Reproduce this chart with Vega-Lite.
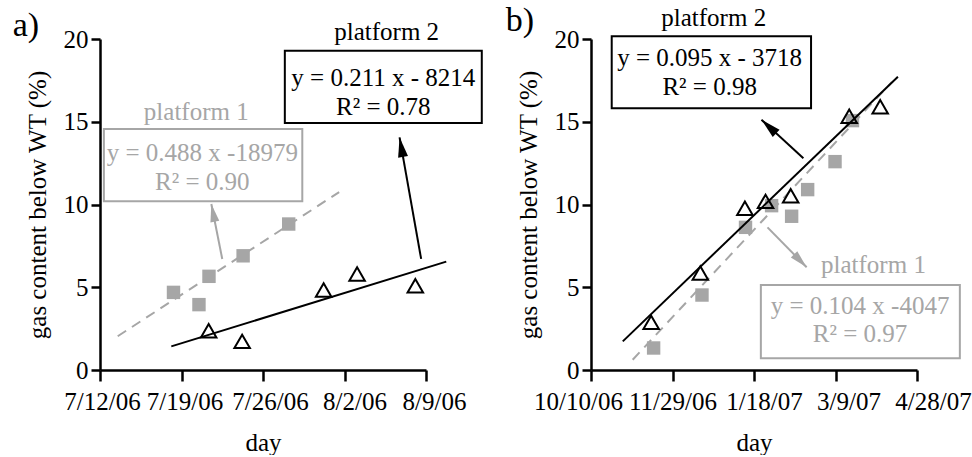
{
  "$schema": "https://vega.github.io/schema/vega-lite/v6.json",
  "background": "white",
  "padding": {"left": 12, "top": 3, "right": 0, "bottom": 0},
  "bounds": "flush",
  "spacing": 165,
  "resolve": {"scale": {"x": "independent", "y": "independent"}},
  "config": {
    "view": {"stroke": null},
    "font": "Liberation Serif",
    "axis": {
      "domainColor": "black", "domainWidth": 2.5, "tickColor": "black", "tickWidth": 2.5,
      "labelFont": "Liberation Serif", "labelFontSize": 25, "labelColor": "black",
      "titleFont": "Liberation Serif", "titleFontSize": 25, "titleFontWeight": "normal", "titleColor": "black",
      "grid": false, "labelFlush": false, "labelOverlap": false
    },
    "axisX": {"tickSize": 11, "labelPadding": 8, "titlePadding": 16},
    "axisY": {"tickSize": 9, "labelPadding": 3, "titlePadding": 13}
  },
  "datasets": {
    "a_pts": [
      {"day": "2006-07-18T07:30", "value": 4.69, "platform": "platform 1"},
      {"day": "2006-07-20T12:00", "value": 3.95, "platform": "platform 1"},
      {"day": "2006-07-21T08:40", "value": 5.66, "platform": "platform 1"},
      {"day": "2006-07-24T07:00", "value": 6.9, "platform": "platform 1"},
      {"day": "2006-07-28T05:00", "value": 8.82, "platform": "platform 1"},
      {"day": "2006-07-21T08:00", "value": 2.37, "platform": "platform 2"},
      {"day": "2006-07-24T05:00", "value": 1.73, "platform": "platform 2"},
      {"day": "2006-07-31T05:00", "value": 4.83, "platform": "platform 2"},
      {"day": "2006-08-03T02:00", "value": 5.8, "platform": "platform 2"},
      {"day": "2006-08-08T02:00", "value": 5.09, "platform": "platform 2"}
    ],
    "a_fit": [
      {"day": "2006-07-13T12:30", "value": 2.04, "platform": "platform 1"},
      {"day": "2006-08-01T13:00", "value": 10.75, "platform": "platform 1"},
      {"day": "2006-07-18T03:00", "value": 1.43, "platform": "platform 2"},
      {"day": "2006-08-10T17:45", "value": 6.55, "platform": "platform 2"}
    ],
    "a_box": [
      {"day": "2006-07-12T08:00", "day2": "2006-07-29T09:00", "value": 10.19, "value2": 14.56, "platform": "platform 1"},
      {"day": "2006-07-27T21:00", "day2": "2006-08-13T19:00", "value": 14.92, "value2": 19.29, "platform": "platform 2"}
    ],
    "a_arrow": [
      {"day": "2006-07-21T13:30", "value": 10.03, "day2": "2006-07-22T12:00", "value2": 6.71, "platform": "platform 1"},
      {"day": "2006-08-06T17:30", "value": 14.06, "day2": "2006-08-08T14:00", "value2": 6.71, "platform": "platform 2"}
    ],
    "a_txt": [
      {"day": "2006-08-05T15:00", "value": 19.96, "text": "platform 2", "platform": "platform 2"},
      {"day": "2006-08-05T08:00", "value": 17.14, "text": "y = 0.211 x - 8214", "platform": "platform 2"},
      {"day": "2006-08-05T08:00", "value": 15.43, "text": "R² = 0.78", "platform": "platform 2"},
      {"day": "2006-07-20T06:30", "value": 15.12, "text": "platform 1", "platform": "platform 1"},
      {"day": "2006-07-20T19:00", "value": 12.61, "text": "y = 0.488 x -18979", "platform": "platform 1"},
      {"day": "2006-07-20T19:00", "value": 10.89, "text": "R² = 0.90", "platform": "platform 1"}
    ],
    "a_label": [{"day": "2006-07-04T12:00", "value": 20.18, "text": "a)"}],
    "b_pts": [
      {"day": "2006-11-17T10:00", "value": 1.33, "platform": "platform 1"},
      {"day": "2006-12-17T02:00", "value": 4.53, "platform": "platform 1"},
      {"day": "2007-01-12T19:00", "value": 8.62, "platform": "platform 1"},
      {"day": "2007-01-28T19:00", "value": 9.93, "platform": "platform 1"},
      {"day": "2007-02-10T02:00", "value": 9.29, "platform": "platform 1"},
      {"day": "2007-02-19T22:00", "value": 10.9, "platform": "platform 1"},
      {"day": "2007-03-08T17:00", "value": 12.59, "platform": "platform 1"},
      {"day": "2007-03-19T10:00", "value": 15.07, "platform": "platform 1"},
      {"day": "2006-11-15T22:00", "value": 2.88, "platform": "platform 2"},
      {"day": "2006-12-16T02:00", "value": 5.86, "platform": "platform 2"},
      {"day": "2007-01-12T10:00", "value": 9.77, "platform": "platform 2"},
      {"day": "2007-01-25T02:00", "value": 10.19, "platform": "platform 2"},
      {"day": "2007-02-09T12:00", "value": 10.53, "platform": "platform 2"},
      {"day": "2007-03-17T10:00", "value": 15.33, "platform": "platform 2"},
      {"day": "2007-04-05T10:00", "value": 15.91, "platform": "platform 2"}
    ],
    "b_fit": [
      {"day": "2006-11-04T14:00", "value": 0.62, "platform": "platform 1"},
      {"day": "2007-04-12T14:00", "value": 17.4, "platform": "platform 1"},
      {"day": "2006-10-29T12:00", "value": 1.73, "platform": "platform 2"},
      {"day": "2007-04-16T07:00", "value": 17.72, "platform": "platform 2"}
    ],
    "b_box": [
      {"day": "2007-01-22T05:00", "day2": "2007-05-24T07:00", "value": 0.71, "value2": 5.14, "platform": "platform 1"},
      {"day": "2006-10-22T17:00", "day2": "2007-02-22T00:00", "value": 15.81, "value2": 20.16, "platform": "platform 2"}
    ],
    "b_arrow": [
      {"day": "2007-02-19T07:00", "value": 6.21, "day2": "2007-01-26T07:00", "value2": 8.62, "platform": "platform 1"},
      {"day": "2007-01-22T14:00", "value": 15.12, "day2": "2007-02-17T07:00", "value2": 12.79, "platform": "platform 2"}
    ],
    "b_txt": [
      {"day": "2006-12-24T07:00", "value": 20.76, "text": "platform 2", "platform": "platform 2"},
      {"day": "2006-12-21T19:00", "value": 18.39, "text": "y = 0.095 x - 3718", "platform": "platform 2"},
      {"day": "2006-12-21T19:00", "value": 16.62, "text": "R² = 0.98", "platform": "platform 2"},
      {"day": "2007-04-01T07:00", "value": 5.86, "text": "platform 1", "platform": "platform 1"},
      {"day": "2007-03-24T02:00", "value": 3.38, "text": "y = 0.104 x -4047", "platform": "platform 1"},
      {"day": "2007-03-24T02:00", "value": 1.67, "text": "R² = 0.97", "platform": "platform 1"}
    ],
    "b_label": [{"day": "2006-08-18T17:00", "value": 20.5, "text": "b)"}]
  },
  "hconcat": [
    {
      "width": 326,
      "height": 331,
      "encoding": {
        "x": {
          "field": "day", "type": "temporal",
          "scale": {"domain": [{"year": 2006, "month": 7, "date": 12}, {"year": 2006, "month": 8, "date": 9}], "nice": false},
          "axis": {
            "title": "day", "format": "%-m/%-d/%y",
            "labelOffset": {"condition": [
              {"test": "date(datum.value) === 19", "value": 3},
              {"test": "date(datum.value) === 26", "value": 7},
              {"test": "date(datum.value) === 2", "value": 10},
              {"test": "date(datum.value) === 9", "value": 8}
            ], "value": 2},
            "values": [{"year": 2006, "month": 7, "date": 12}, {"year": 2006, "month": 7, "date": 19}, {"year": 2006, "month": 7, "date": 26}, {"year": 2006, "month": 8, "date": 2}, {"year": 2006, "month": 8, "date": 9}]
          }
        },
        "y": {
          "field": "value", "type": "quantitative",
          "scale": {"domain": [0, 20], "nice": false},
          "axis": {"title": "gas content below WT (%)", "values": [0, 5, 10, 15, 20]}
        }
      },
      "layer": [
        {
          "data": {"name": "a_box"},
          "mark": {"type": "rect", "fill": "white", "strokeWidth": 2},
          "encoding": {
            "x2": {"field": "day2"},
            "y2": {"field": "value2"},
            "stroke": {"field": "platform", "type": "nominal", "scale": {"domain": ["platform 1", "platform 2"], "range": ["#a6a6a6", "#000000"]}, "legend": null}
          }
        },
        {
          "data": {"name": "a_fit"},
          "transform": [{"filter": "datum.platform === 'platform 1'"}],
          "mark": {"type": "line", "color": "#a6a6a6", "strokeWidth": 2, "strokeDash": [10, 7]},
          "encoding": {}
        },
        {
          "data": {"name": "a_fit"},
          "transform": [{"filter": "datum.platform === 'platform 2'"}],
          "mark": {"type": "line", "color": "#000000", "strokeWidth": 2},
          "encoding": {}
        },
        {
          "data": {"name": "a_pts"},
          "transform": [{"filter": "datum.platform === 'platform 1'"}],
          "mark": {"type": "point", "shape": "square", "filled": true, "size": 180, "color": "#a6a6a6", "opacity": 1},
          "encoding": {}
        },
        {
          "data": {"name": "a_pts"},
          "transform": [{"filter": "datum.platform === 'platform 2'"}],
          "mark": {"type": "point", "shape": "triangle-up", "filled": false, "size": 240, "stroke": "#000000", "strokeWidth": 2, "opacity": 1},
          "encoding": {}
        },
        {
          "data": {"name": "a_arrow"},
          "mark": {"type": "rule", "strokeWidth": 2},
          "encoding": {
            "x2": {"field": "day2"},
            "y2": {"field": "value2"},
            "color": {"field": "platform", "type": "nominal", "scale": {"domain": ["platform 1", "platform 2"], "range": ["#a6a6a6", "#000000"]}, "legend": null}
          }
        },
        {
          "data": {"name": "a_arrow"},
          "transform": [{"filter": "datum.platform === 'platform 1'"}],
          "mark": {"type": "point", "shape": "M0,0L0.5,2L-0.5,2Z", "filled": true, "size": 324, "angle": 348.7, "color": "#a6a6a6", "opacity": 1},
          "encoding": {}
        },
        {
          "data": {"name": "a_arrow"},
          "transform": [{"filter": "datum.platform === 'platform 2'"}],
          "mark": {"type": "point", "shape": "M0,0L0.5,2L-0.5,2Z", "filled": true, "size": 400, "angle": 349.9, "color": "#000000", "opacity": 1},
          "encoding": {}
        },
        {
          "data": {"name": "a_txt"},
          "mark": {"type": "text", "font": "Liberation Serif", "fontSize": 25, "baseline": "alphabetic", "align": "center"},
          "encoding": {
            "text": {"field": "text"},
            "color": {"field": "platform", "type": "nominal", "scale": {"domain": ["platform 1", "platform 2"], "range": ["#a6a6a6", "#000000"]}, "legend": null}
          }
        },
        {
          "data": {"name": "a_label"},
          "mark": {"type": "text", "font": "Liberation Serif", "fontSize": 34, "baseline": "alphabetic", "align": "left", "color": "#000000"},
          "encoding": {"text": {"field": "text"}}
        }
      ]
    },
    {
      "width": 326,
      "height": 331,
      "encoding": {
        "x": {
          "field": "day", "type": "temporal",
          "scale": {"domain": [{"year": 2006, "month": 10, "date": 10}, {"year": 2007, "month": 4, "date": 28}], "nice": false},
          "axis": {
            "title": "day", "format": "%-m/%-d/%y",
            "labelOffset": {"condition": [
              {"test": "month(datum.value) === 9", "value": -13},
              {"test": "month(datum.value) === 0", "value": 10},
              {"test": "month(datum.value) === 2", "value": 13},
              {"test": "month(datum.value) === 3", "value": 16}
            ], "value": 0},
            "values": [{"year": 2006, "month": 10, "date": 10}, {"year": 2006, "month": 11, "date": 29}, {"year": 2007, "month": 1, "date": 18}, {"year": 2007, "month": 3, "date": 9}, {"year": 2007, "month": 4, "date": 28}]
          }
        },
        "y": {
          "field": "value", "type": "quantitative",
          "scale": {"domain": [0, 20], "nice": false},
          "axis": {"title": "gas content below WT (%)", "values": [0, 5, 10, 15, 20]}
        }
      },
      "layer": [
        {
          "data": {"name": "b_box"},
          "mark": {"type": "rect", "fill": "white", "strokeWidth": 2},
          "encoding": {
            "x2": {"field": "day2"},
            "y2": {"field": "value2"},
            "stroke": {"field": "platform", "type": "nominal", "scale": {"domain": ["platform 1", "platform 2"], "range": ["#a6a6a6", "#000000"]}, "legend": null}
          }
        },
        {
          "data": {"name": "b_pts"},
          "transform": [{"filter": "datum.platform === 'platform 1'"}],
          "mark": {"type": "point", "shape": "square", "filled": true, "size": 180, "color": "#a6a6a6", "opacity": 1},
          "encoding": {}
        },
        {
          "data": {"name": "b_fit"},
          "transform": [{"filter": "datum.platform === 'platform 1'"}],
          "mark": {"type": "line", "color": "#a6a6a6", "strokeWidth": 2, "strokeDash": [10, 7]},
          "encoding": {}
        },
        {
          "data": {"name": "b_fit"},
          "transform": [{"filter": "datum.platform === 'platform 2'"}],
          "mark": {"type": "line", "color": "#000000", "strokeWidth": 2},
          "encoding": {}
        },
        {
          "data": {"name": "b_pts"},
          "transform": [{"filter": "datum.platform === 'platform 2'"}],
          "mark": {"type": "point", "shape": "triangle-up", "filled": false, "size": 240, "stroke": "#000000", "strokeWidth": 2, "opacity": 1},
          "encoding": {}
        },
        {
          "data": {"name": "b_arrow"},
          "mark": {"type": "rule", "strokeWidth": 2},
          "encoding": {
            "x2": {"field": "day2"},
            "y2": {"field": "value2"},
            "color": {"field": "platform", "type": "nominal", "scale": {"domain": ["platform 1", "platform 2"], "range": ["#a6a6a6", "#000000"]}, "legend": null}
          }
        },
        {
          "data": {"name": "b_arrow"},
          "transform": [{"filter": "datum.platform === 'platform 1'"}],
          "mark": {"type": "point", "shape": "M0,0L0.5,2L-0.5,2Z", "filled": true, "size": 324, "angle": 135.7, "color": "#a6a6a6", "opacity": 1},
          "encoding": {}
        },
        {
          "data": {"name": "b_arrow"},
          "transform": [{"filter": "datum.platform === 'platform 2'"}],
          "mark": {"type": "point", "shape": "M0,0L0.5,2L-0.5,2Z", "filled": true, "size": 400, "angle": 312.8, "color": "#000000", "opacity": 1},
          "encoding": {}
        },
        {
          "data": {"name": "b_txt"},
          "mark": {"type": "text", "font": "Liberation Serif", "fontSize": 25, "baseline": "alphabetic", "align": "center"},
          "encoding": {
            "text": {"field": "text"},
            "color": {"field": "platform", "type": "nominal", "scale": {"domain": ["platform 1", "platform 2"], "range": ["#a6a6a6", "#000000"]}, "legend": null}
          }
        },
        {
          "data": {"name": "b_label"},
          "mark": {"type": "text", "font": "Liberation Serif", "fontSize": 34, "baseline": "alphabetic", "align": "left", "color": "#000000"},
          "encoding": {"text": {"field": "text"}}
        }
      ]
    }
  ]
}
